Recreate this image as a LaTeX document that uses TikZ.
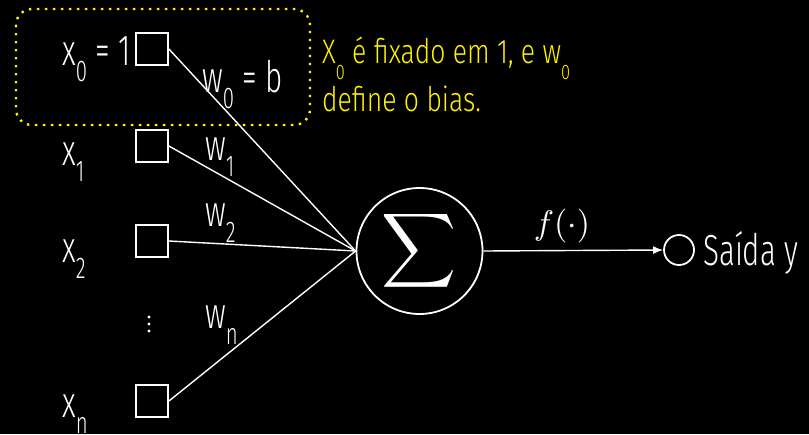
\documentclass[tikz,border=0pt]{standalone}
\usepackage{fontspec}
\setmainfont{Fira Sans}[UprightFont=* Light, FakeStretch=0.68]
\newfontfamily\notefont{Fira Sans}[UprightFont=* Light, FakeStretch=0.78]
\usetikzlibrary{arrows.meta}
\newcommand\idx[2][30]{\raisebox{-16pt}{\fontsize{#1}{#1}\selectfont #2}}
\tikzset{
  inbox/.style={draw=white, line width=1.8pt, minimum size=32pt, inner sep=0pt},
  lbl/.style={text=white, anchor=base west, inner sep=0pt, font=\fontsize{43.5}{43.5}\selectfont},
  wire/.style={white, line width=1.4pt}
}
\begin{document}
\begin{tikzpicture}[x=1pt, y=-1pt]
  \fill[black] (0,0) rectangle (809,434);
  \useasboundingbox (0,0) rectangle (809,434);
  % Caixa do bias
  \draw[yellow, line width=2.4pt, dash pattern=on 2.4pt off 5.6pt, rounded corners=16pt]
    (16,9) rectangle (310,125);
  % Entradas
  \foreach \n/\y in {0/49, 1/146, 2/241, n/401} {
    \node[inbox] (b\n) at (152,\y) {};
  }
  \node[lbl] (x0) at (62,65) {x\idx{0} = 1};
  \node[lbl] (x1) at (62,165) {x\idx{1}};
  \node[lbl] (x2) at (62,262) {x\idx{2}};
  \node[lbl] (xn) at (62,417) {x\idx{n}};
  \foreach \y in {317,324,331} {
    \fill[white] (149,\y) circle (1.7);
  }
  % Somatorio
  \node[draw=white, circle, line width=1.8pt, minimum size=126pt, inner sep=0pt, text=white]
    (sum) at (419.5,251) {\scalebox{5.2}{$\displaystyle\sum$}};
  \foreach \n in {0,1,2,n} {
    \draw[wire] (b\n.east) -- (sum.west);
  }
  % Pesos
  \node[lbl] (w0) at (202,92) {w\idx{0} = b};
  \node[lbl] (w1) at (205,160) {w\idx{1}};
  \node[lbl] (w2) at (205,226) {w\idx{2}};
  \node[lbl] (wn) at (205,328) {w\idx{n}};
  % Saida
  \node[draw=white, circle, line width=1.8pt, minimum size=30pt, inner sep=0pt] (out) at (679,250) {};
  \draw[wire, -{Latex[length=10pt, width=8pt]}] (sum.east) -- (out.west);
  \node[text=white] (f) at (562,226) {\scalebox{3.4}{$f(\cdot)$}};
  \node[lbl] (saida) at (703,265) {Saída y};
  % Nota
  \node[text=yellow, anchor=base west, inner sep=0pt, align=left,
        font=\notefont\fontsize{34}{48}\selectfont] (nota) at (322,111)
    {X\idx[21]{0} é fixado em 1, e w\idx[21]{0}\\define o bias.};
\end{tikzpicture}
\end{document}
